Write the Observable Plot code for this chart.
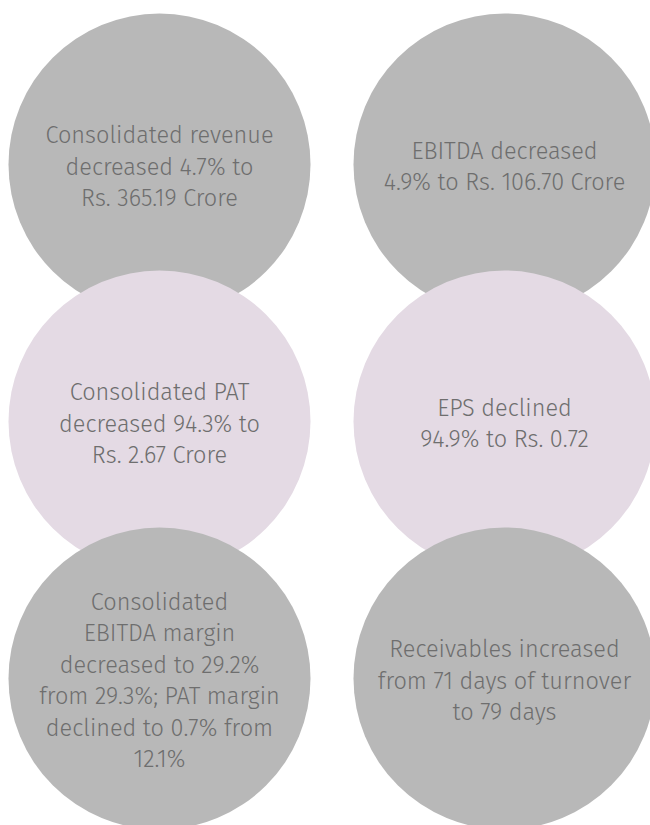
<!DOCTYPE html>
<html>
<head>
<meta charset="utf-8">
<script src="https://cdn.jsdelivr.net/npm/d3@7"></script>
<script src="https://cdn.jsdelivr.net/npm/@observablehq/plot@0.6"></script>
<style>
  html, body { margin: 0; padding: 0; background: #ffffff; }
  #chart svg { display: block; }
</style>
</head>
<body>
<div id="chart"></div>
<script>
// Highlights, in drawing order (row by row, left then right)
const labels = [
  "Consolidated revenue\ndecreased 4.7% to\nRs. 365.19 Crore",
  "EBITDA decreased\n4.9% to Rs. 106.70 Crore",
  "Consolidated PAT\ndecreased 94.3% to\nRs. 2.67 Crore",
  "EPS declined\n94.9% to Rs. 0.72",
  "Consolidated\nEBITDA margin\ndecreased to 29.2%\nfrom 29.3%; PAT margin\ndeclined to 0.7% from\n12.1%",
  "Receivables increased\nfrom 71 days of turnover\nto 79 days"
];
const cols = [0, 1, 0, 1, 0, 1];
const rows = [0, 0, 1, 1, 2, 2];
const groups = ["neutral", "neutral", "profit", "profit", "neutral", "neutral"];

const data = labels.map((label, i) => ({label, col: cols[i], row: rows[i], group: groups[i]}));

const chart = Plot.plot({
  width: 650,
  height: 825,
  margin: 0,
  style: {background: "#ffffff", fontFamily: "'Fira Sans', 'Open Sans', Roboto, sans-serif"},
  x: {domain: [0, 1], range: [159, 504], axis: null},
  y: {domain: [0, 2], range: [164, 678], axis: null},
  color: {type: "ordinal", domain: ["neutral", "profit"], range: ["#b8b8b8", "#e4dae4"]},
  marks: [
    Plot.dot(data, {x: "col", y: "row", r: 151, fill: "group", stroke: null}),
    Plot.text(data, {
      x: "col", y: "row", text: "label",
      fontSize: 23.5, lineHeight: 1.34, fill: "#6e6e6e", fontWeight: 300,
      textAnchor: "middle", lineAnchor: "middle"
    })
  ]
});
document.getElementById("chart").appendChild(chart);
</script>
</body>
</html>
